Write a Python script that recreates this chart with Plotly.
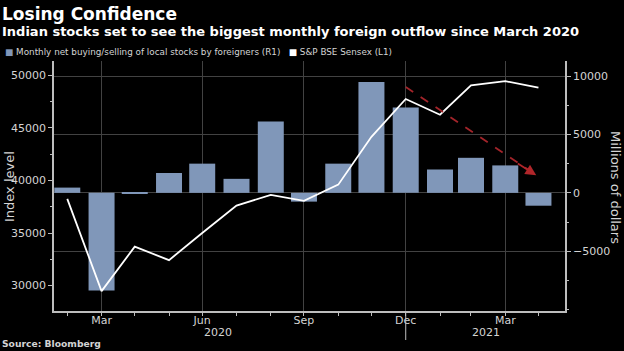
import plotly.graph_objects as go

# ---- data ----
months = ["2020-02-29", "2020-03-31", "2020-04-30", "2020-05-31", "2020-06-30",
          "2020-07-31", "2020-08-31", "2020-09-30", "2020-10-31", "2020-11-30",
          "2020-12-31", "2021-01-31", "2021-02-28", "2021-03-31", "2021-04-30"]
foreign_flows = [450, -8350, -50, 1700, 2500, 1200, 6100, -750, 2500, 9500,
                 7300, 2000, 3000, 2350, -1100]          # millions of dollars (R1)
sensex = [38250, 29470, 33700, 32420, 35000, 37600, 38630, 38060, 39600, 44150,
          47750, 46250, 49050, 49450, 48820]             # index level (L1)
tick_dates = ["2020-03-31", "2020-06-30", "2020-09-30", "2020-12-31", "2021-03-31"]
tick_text = ["Mar", "Jun", "Sep", "Dec", "Mar"]
year_labels = ["2020", "2021"]
year_label_dates = ["2020-07-14", "2021-03-14"]
arrow_from = ("2020-12-31", 48900)
arrow_to = ("2021-04-28", 40500)

BAR = "#8097b9"
TXT = "#d4d4d4"
GRID = "#424242"
AXL = "#bdbdbd"
FONT = "DejaVu Sans"
PLOT_BOTTOM = 311.0
PLOT_H = 250.0
PLOT_W = 511.0


def py(Y):
    """pixel row -> paper y"""
    return (PLOT_BOTTOM - Y) / PLOT_H


def px(X):
    """pixel column -> paper x"""
    return (X - 54) / PLOT_W


fig = go.Figure()
fig.add_trace(go.Bar(x=months, y=foreign_flows, yaxis="y", marker_color=BAR,
                     marker_line_width=0, width=23.5 * 86400000,
                     name="Monthly net buying/selling of local stocks by foreigners (R1)"))
fig.add_trace(go.Scatter(x=months, y=sensex, yaxis="y2", mode="lines",
                         line=dict(color="white", width=1.8),
                         name="S&P BSE Sensex (L1)"))

fig.update_layout(
    width=624, height=351,
    paper_bgcolor="black", plot_bgcolor="black",
    margin=dict(l=54, r=59, t=61, b=40),
    showlegend=False,
    font=dict(family=FONT, color=TXT, size=11),
    xaxis=dict(type="date", range=["2020-02-17", "2021-05-24"],
               tickvals=tick_dates, ticktext=tick_text,
               showgrid=True, gridcolor=GRID, gridwidth=1,
               showline=True, linecolor=AXL, linewidth=1.5,
               ticks="outside", ticklen=3, tickcolor=AXL,
               ticklabelstandoff=-5,
               tickfont=dict(size=11, color=TXT),
               minor=dict(tickvals=months, ticks="outside", ticklen=3,
                          tickcolor=AXL, showgrid=False)),
    yaxis=dict(side="right", range=[-10114, 11288],
               tickvals=[-5000, 0, 5000, 10000], tickformat="d",
               showgrid=True, gridcolor=GRID, gridwidth=1, zeroline=False,
               showline=True, linecolor=AXL, linewidth=1.5,
               ticks="outside", ticklen=4, tickcolor=AXL,
               tickfont=dict(size=11, color=TXT),
               minor=dict(dtick=2500, ticks="outside", ticklen=2,
                          tickcolor=AXL, showgrid=False)),
    yaxis2=dict(side="left", overlaying="y", range=[27581, 51362],
                tickvals=[30000, 35000, 40000, 45000, 50000], tickformat="d",
                showgrid=False, zeroline=False,
                showline=True, linecolor=AXL, linewidth=1.5,
                ticks="outside", ticklen=4, tickcolor=AXL,
                tickfont=dict(size=11, color=TXT),
                minor=dict(dtick=2500, ticks="outside", ticklen=2,
                           tickcolor=AXL, showgrid=False)),
)

# year separator below the axis
fig.add_shape(type="line", xref="x", yref="paper", x0="2020-12-31", x1="2020-12-31",
              y0=0, y1=py(340), line=dict(color=AXL, width=1))

# dashed red arrow
fig.add_shape(type="line", xref="x", yref="y2",
              x0=arrow_from[0], y0=arrow_from[1], x1=arrow_to[0], y1=arrow_to[1],
              line=dict(color="#a3242a", width=1.8, dash="dash"))
fig.add_annotation(xref="x", yref="y2", axref="x", ayref="y2",
                   x=arrow_to[0], y=arrow_to[1], ax="2021-04-10", ay=41700,
                   text="", showarrow=True, arrowhead=2, arrowsize=1.2,
                   arrowwidth=1.8, arrowcolor="#b0262a")

for t, d in zip(year_labels, year_label_dates):
    fig.add_annotation(xref="x", yref="paper", x=d, y=py(332), yanchor="middle",
                       text=t, showarrow=False, font=dict(size=11, color=TXT))

# titles
fig.add_annotation(xref="paper", yref="paper", x=px(0), y=py(14),
                   xanchor="left", yanchor="middle", text="<b>Losing Confidence</b>",
                   showarrow=False, font=dict(size=17, color="white", family=FONT))
fig.add_annotation(xref="paper", yref="paper", x=px(0), y=py(32),
                   xanchor="left", yanchor="middle",
                   text="<b>Indian stocks set to see the biggest monthly foreign outflow since March 2020</b>",
                   showarrow=False, font=dict(size=13, color="white", family=FONT))
# legend
fig.add_annotation(xref="paper", yref="paper", x=px(3), y=py(52.5),
                   xanchor="left", yanchor="middle",
                   text=f"<span style='color:{BAR}'>■</span> Monthly net buying/selling of local stocks by foreigners (R1)"
                        f"   <span style='color:white'>■</span> S&P BSE Sensex (L1)",
                   showarrow=False, font=dict(size=8.8, color=TXT, family=FONT))
# axis titles
fig.add_annotation(xref="paper", yref="paper", x=px(9), y=py(187), xanchor="center",
                   yanchor="middle", text="Index level", textangle=-90,
                   showarrow=False, font=dict(size=13, color=TXT))
fig.add_annotation(xref="paper", yref="paper", x=px(616), y=py(187), xanchor="center",
                   yanchor="middle", text="Millions of dollars", textangle=90,
                   showarrow=False, font=dict(size=13, color=TXT))
# source
fig.add_annotation(xref="paper", yref="paper", x=px(0), y=py(343),
                   xanchor="left", yanchor="middle", text="<b>Source: Bloomberg</b>",
                   showarrow=False, font=dict(size=9.2, color=TXT, family=FONT))

fig.write_html("out.html")
